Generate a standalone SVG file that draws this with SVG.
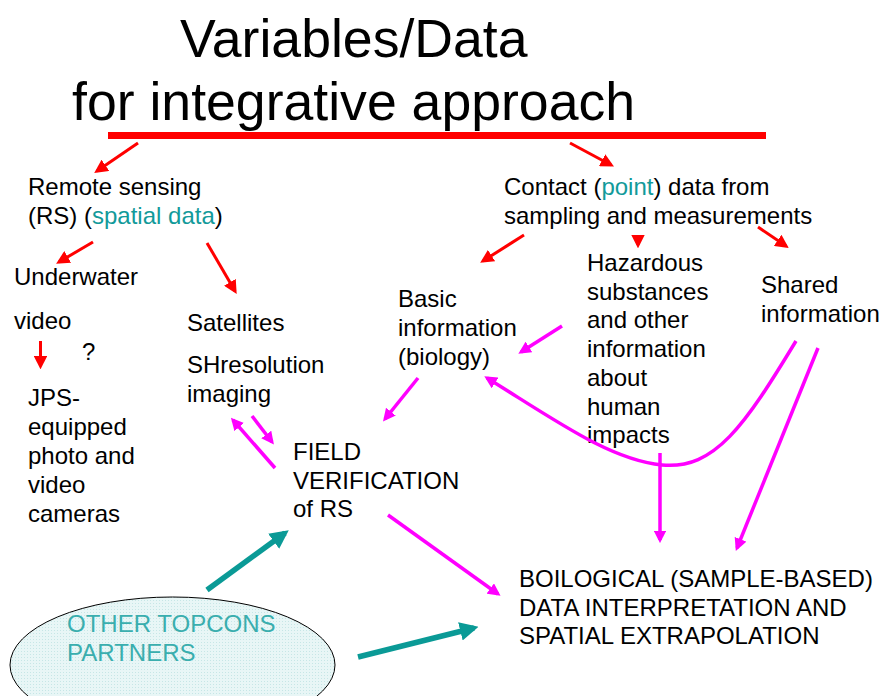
<svg xmlns="http://www.w3.org/2000/svg" width="881" height="696" viewBox="0 0 881 696">
<defs>
<style>
text{font-family:"Liberation Sans",Arial,sans-serif;fill:#000}
.t{font-size:53.6px}
.n{font-size:24px}
.tl{fill:#129a9a}
.tp{fill:#3aaeae}
.red{stroke:#ff0000;stroke-width:3;fill:none}
.mag{stroke:#ff00ff;stroke-width:3.5;fill:none}
.teal{stroke:#0a9a96;stroke-width:5.5;fill:none}
</style>
<marker id="ah-red" viewBox="0 0 10 10" refX="7.5" refY="5" markerWidth="4.5" markerHeight="4.5" orient="auto" markerUnits="strokeWidth"><path d="M0,0 L10,5 L0,10 z" fill="#ff0000"/></marker>
<marker id="ah-mag" viewBox="0 0 10 10" refX="7.5" refY="5" markerWidth="3.6" markerHeight="3.6" orient="auto" markerUnits="strokeWidth"><path d="M0,0 L10,5 L0,10 z" fill="#ff00ff"/></marker>
<marker id="ah-teal" viewBox="0 0 10 10" refX="7.5" refY="5" markerWidth="3.4" markerHeight="3.4" orient="auto" markerUnits="strokeWidth"><path d="M0,0 L10,5 L0,10 z" fill="#0a9a96"/></marker>
<pattern id="dots" width="3" height="3" patternUnits="userSpaceOnUse"><rect width="3" height="3" fill="#e8f6f6"/><rect width="1" height="1" fill="#c6e6e6"/></pattern>
</defs>

<g id="title">
<text class="t" x="180" y="57">Variables/Data</text>
<text class="t" x="72" y="120">for integrative approach</text>
<rect x="108" y="132" width="658" height="7" fill="#ff0000"/>
</g>

<g id="remote-sensing">
<text class="n" x="28" y="195">Remote sensing</text>
<text class="n" x="28" y="224">(RS) (<tspan class="tl">spatial data</tspan>)</text>
</g>
<g id="underwater">
<text class="n" x="14" y="285">Underwater</text>
<text class="n" x="14" y="329">video</text>
</g>
<g id="question"><text class="n" x="82" y="360">?</text></g>
<g id="jps">
<text class="n" x="28" y="406">JPS-</text>
<text class="n" x="28" y="435">equipped</text>
<text class="n" x="28" y="464">photo and</text>
<text class="n" x="28" y="493">video</text>
<text class="n" x="28" y="522">cameras</text>
</g>
<g id="satellites">
<text class="n" x="187" y="331">Satellites</text>
<text class="n" x="187" y="373">SHresolution</text>
<text class="n" x="187" y="402">imaging</text>
</g>
<g id="field">
<text class="n" x="293" y="460">FIELD</text>
<text class="n" x="293" y="489">VERIFICATION</text>
<text class="n" x="293" y="517">of RS</text>
</g>
<g id="contact">
<text class="n" x="504" y="195">Contact (<tspan class="tl">point</tspan>) data from</text>
<text class="n" x="504" y="224">sampling and measurements</text>
</g>
<g id="basic">
<text class="n" x="398" y="307">Basic</text>
<text class="n" x="398" y="336">information</text>
<text class="n" x="398" y="365">(biology)</text>
</g>
<g id="hazardous">
<text class="n" x="587" y="271">Hazardous</text>
<text class="n" x="587" y="300">substances</text>
<text class="n" x="587" y="328">and other</text>
<text class="n" x="587" y="357">information</text>
<text class="n" x="587" y="386">about</text>
<text class="n" x="587" y="415">human</text>
<text class="n" x="587" y="443">impacts</text>
</g>
<g id="shared">
<text class="n" x="761" y="293">Shared</text>
<text class="n" x="761" y="322">information</text>
</g>
<g id="biological">
<text class="n" x="519" y="587">BOILOGICAL (SAMPLE-BASED)</text>
<text class="n" x="519" y="616">DATA INTERPRETATION AND</text>
<text class="n" x="519" y="644">SPATIAL EXTRAPOLATION</text>
</g>
<g id="partners">
<ellipse cx="172.5" cy="665" rx="162.5" ry="68" fill="url(#dots)" stroke="#000" stroke-width="1"/>
<text class="n tp" x="67" y="632">OTHER TOPCONS</text>
<text class="n tp" x="67" y="661">PARTNERS</text>
</g>

<g id="connectors">
<line class="red" x1="138" y1="143" x2="97" y2="171" marker-end="url(#ah-red)"/>
<line class="red" x1="570" y1="143" x2="611" y2="165" marker-end="url(#ah-red)"/>
<line class="red" x1="93" y1="242" x2="59" y2="262" marker-end="url(#ah-red)"/>
<line class="red" x1="207" y1="243" x2="235" y2="291" marker-end="url(#ah-red)"/>
<line class="red" x1="40.5" y1="341" x2="40.5" y2="366" marker-end="url(#ah-red)"/>
<line class="red" x1="524" y1="235" x2="483" y2="261" marker-end="url(#ah-red)"/>
<line class="red" x1="638" y1="236" x2="638" y2="245" marker-end="url(#ah-red)"/>
<line class="red" x1="758" y1="227" x2="786" y2="246" marker-end="url(#ah-red)"/>

<line class="mag" x1="562" y1="326" x2="521" y2="352" marker-end="url(#ah-mag)"/>
<line class="mag" x1="418" y1="378" x2="385" y2="419" marker-end="url(#ah-mag)"/>
<path class="mag" d="M796,341 C745,425 715,470 662,465 C610,460 555,420 487,378" marker-end="url(#ah-mag)"/>
<line class="mag" x1="660" y1="453" x2="660" y2="540" marker-end="url(#ah-mag)"/>
<line class="mag" x1="818" y1="348" x2="737" y2="548" marker-end="url(#ah-mag)"/>
<line class="mag" x1="275" y1="468" x2="233" y2="420" marker-end="url(#ah-mag)"/>
<line class="mag" x1="252" y1="416" x2="272" y2="442" marker-end="url(#ah-mag)"/>
<line class="mag" x1="388" y1="515" x2="498" y2="594" marker-end="url(#ah-mag)"/>

<line class="teal" x1="207" y1="590" x2="285" y2="533" marker-end="url(#ah-teal)"/>
<line class="teal" x1="358" y1="657" x2="474" y2="628" marker-end="url(#ah-teal)"/>
</g>
</svg>
